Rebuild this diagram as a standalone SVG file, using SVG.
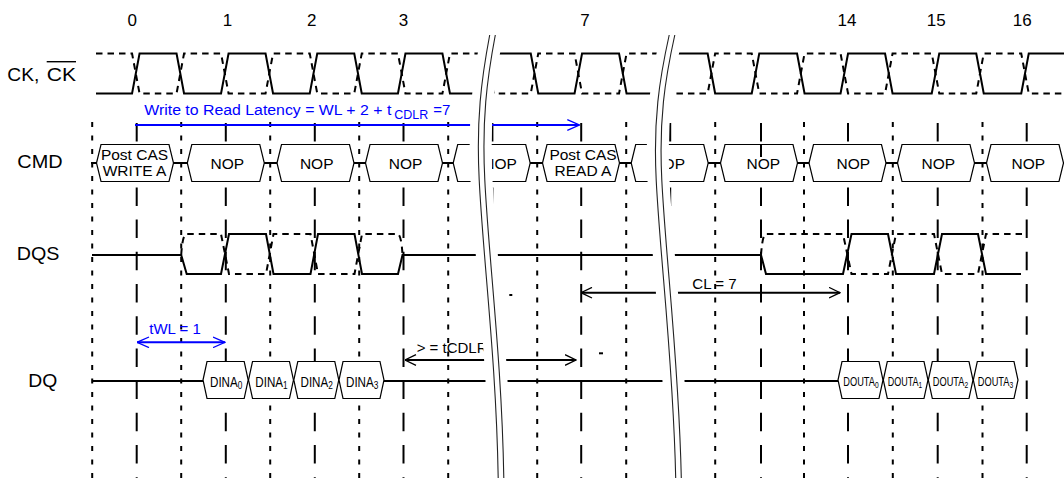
<svg xmlns="http://www.w3.org/2000/svg" width="1064" height="478" viewBox="0 0 1064 478">
<style>
.t{font-family:"Liberation Sans",Arial,sans-serif;fill:#000}
.b{fill:#00f}
.wf{fill:none;stroke:#000;stroke-width:2}
.wfd{fill:none;stroke:#000;stroke-width:2;stroke-dasharray:6.5 5}
.box{fill:#fff;stroke:#000;stroke-width:1.2}
.gl{stroke:#000;stroke-width:2;stroke-dasharray:18.5 13.7}
.gd{stroke:#000;stroke-width:2;stroke-dasharray:5 8.5}
.arr{fill:none;stroke:#000;stroke-width:2}
.arrb{fill:none;stroke:#00f;stroke-width:2}
.msk{fill:none;stroke:#fff;stroke-width:22}
.brk{fill:none;stroke:#222;stroke-width:1.1}
.di{font-size:14px}
.do{font-size:12.5px}
</style>
<defs>
<marker id="mk" markerUnits="userSpaceOnUse" viewBox="0 0 12 12" markerWidth="12" markerHeight="12" refX="11.5" refY="6" orient="auto-start-reverse">
<path d="M0.5,0.7 L11.5,6 L0.5,11.3" fill="none" stroke="#000" stroke-width="1.3"/>
</marker>
<marker id="mkb" markerUnits="userSpaceOnUse" viewBox="0 0 13 12" markerWidth="13" markerHeight="12" refX="12.5" refY="6" orient="auto-start-reverse">
<path d="M0.5,0.7 L12.5,6 L0.5,11.3" fill="none" stroke="#00f" stroke-width="1.3"/>
</marker>
</defs>
<rect x="0" y="0" width="1064" height="478" fill="#fff"/>

<g id="grid">
<line class="gd" x1="92.2" y1="122" x2="92.2" y2="478"/>
<line class="gd" x1="181.2" y1="122" x2="181.2" y2="478"/>
<line class="gd" x1="270.2" y1="122" x2="270.2" y2="478"/>
<line class="gd" x1="359.2" y1="122" x2="359.2" y2="478"/>
<line class="gd" x1="448.2" y1="122" x2="448.2" y2="478"/>
<line class="gd" x1="537.2" y1="122" x2="537.2" y2="478"/>
<line class="gd" x1="626.2" y1="122" x2="626.2" y2="478"/>
<line class="gd" x1="715.2" y1="122" x2="715.2" y2="478"/>
<line class="gd" x1="804" y1="122" x2="804" y2="478"/>
<line class="gd" x1="892.8" y1="122" x2="892.8" y2="478"/>
<line class="gd" x1="982.5" y1="122" x2="982.5" y2="478"/>
<line class="gl" x1="136.7" y1="123" x2="136.7" y2="478"/>
<line class="gl" x1="225.8" y1="123" x2="225.8" y2="478"/>
<line class="gl" x1="314.8" y1="123" x2="314.8" y2="478"/>
<line class="gl" x1="403.5" y1="123" x2="403.5" y2="478"/>
<line class="gl" x1="492.4" y1="123" x2="492.4" y2="478"/>
<line class="gl" x1="581.2" y1="123" x2="581.2" y2="478"/>
<line class="gl" x1="670.2" y1="123" x2="670.2" y2="478"/>
<line class="gl" x1="761" y1="123" x2="761" y2="478"/>
<line class="gl" x1="848" y1="123" x2="848" y2="478"/>
<line class="gl" x1="937.7" y1="123" x2="937.7" y2="478"/>
<line class="gl" x1="1026.7" y1="123" x2="1026.7" y2="478"/>
</g>

<g id="labels">
<text class="t" x="7.3" y="81" font-size="18.5" textLength="32" lengthAdjust="spacingAndGlyphs">CK,</text>
<text class="t" x="46.7" y="81" font-size="18.5" textLength="29.3" lengthAdjust="spacingAndGlyphs">CK</text>
<line x1="46.7" y1="61.7" x2="76" y2="61.7" stroke="#000" stroke-width="1.4"/>
<text class="t" x="17.3" y="167.7" font-size="18.5" textLength="45.3" lengthAdjust="spacingAndGlyphs">CMD</text>
<text class="t" x="16.7" y="260" font-size="18.5" textLength="42.7" lengthAdjust="spacingAndGlyphs">DQS</text>
<text class="t" x="28.3" y="387.3" font-size="18.5" textLength="29" lengthAdjust="spacingAndGlyphs">DQ</text>
</g>

<g id="cycles" class="t" font-size="17" text-anchor="middle">
<text x="132.2" y="26">0</text>
<text x="227.5" y="26">1</text>
<text x="311.7" y="26">2</text>
<text x="403.5" y="26">3</text>
<text x="585" y="26">7</text>
<text x="847" y="26">14</text>
<text x="936.3" y="26">15</text>
<text x="1022.3" y="26">16</text>
</g>

<g id="ck">
<path class="wf" d="M96,93.5 H132.05 L139.55,53.5 H176.55 L184.05,93.5 H221.05 L228.55,53.5 H265.55 L273.05,93.5 H309.75 L317.25,53.5 H354.25 L361.75,93.5 H397.95 L405.45,53.5 H442.45 L449.95,93.5 H486.25 L493.75,53.5 H530.75 L538.25,93.5 H574.55 L582.05,53.5 H619.05 L626.55,93.5 H663.15 L670.65,53.5 H707.65 L715.15,93.5 H751.75 L759.25,53.5 H797.05 L804.55,93.5 H840.55 L848.05,53.5 H885.05 L892.55,93.5 H931.75 L939.25,53.5 H976.25 L983.75,93.5 H1021.25 L1028.75,53.5 H1064"/>
<path class="wfd" d="M96,53.5 H132.05 L139.55,93.5 H176.55 L184.05,53.5 H221.05 L228.55,93.5 H265.55 L273.05,53.5 H309.75 L317.25,93.5 H354.25 L361.75,53.5 H397.95 L405.45,93.5 H442.45 L449.95,53.5 H486.25 L493.75,93.5 H530.75 L538.25,53.5 H574.55 L582.05,93.5 H619.05 L626.55,53.5 H663.15 L670.65,93.5 H707.65 L715.15,53.5 H751.75 L759.25,93.5 H797.05 L804.55,53.5 H840.55 L848.05,93.5 H885.05 L892.55,53.5 H931.75 L939.25,93.5 H976.25 L983.75,53.5 H1021.25 L1028.75,93.5 H1064"/>
</g>

<g id="cmd">
<line class="wf" x1="91" y1="163" x2="1064" y2="163"/>
<g id="cmd0"><polygon class="box" points="96.5,163 101,144.5 169,144.5 173.5,163 169,181.5 101,181.5"/>
<text class="t" x="134.5" y="160" font-size="15.5" text-anchor="middle">Post CAS</text>
<text class="t" x="134.5" y="175.7" font-size="15.5" text-anchor="middle">WRITE A</text></g>
<g id="cmd1"><polygon class="box" points="187.3,163 191.8,144.5 259.8,144.5 264.3,163 259.8,181.5 191.8,181.5"/>
<text class="t" x="227.3" y="168.5" font-size="15.5" text-anchor="middle">NOP</text></g>
<g id="cmd2"><polygon class="box" points="277,163 281.5,144.5 349.5,144.5 354,163 349.5,181.5 281.5,181.5"/>
<text class="t" x="316.7" y="168.5" font-size="15.5" text-anchor="middle">NOP</text></g>
<g id="cmd3"><polygon class="box" points="365.5,163 370,144.5 438,144.5 442.5,163 438,181.5 370,181.5"/>
<text class="t" x="405.5" y="168.5" font-size="15.5" text-anchor="middle">NOP</text></g>
<g id="cmd4"><polygon class="box" points="453.2,163 457.7,144.5 525.7,144.5 530.2,163 525.7,181.5 457.7,181.5"/>
<text class="t" x="500" y="168.5" font-size="15.5" text-anchor="middle">NOP</text></g>
<g id="cmd7"><polygon class="box" points="542.5,163 547,144.5 615,144.5 619.5,163 615,181.5 547,181.5"/>
<text class="t" x="583" y="160" font-size="15.5" text-anchor="middle">Post CAS</text>
<text class="t" x="583" y="175.7" font-size="15.5" text-anchor="middle">READ A</text></g>
<g id="cmd12"><polygon class="box" points="631.2,163 635.7,144.5 703.7,144.5 708.2,163 703.7,181.5 635.7,181.5"/>
<text class="t" x="668.2" y="168.5" font-size="15.5" text-anchor="middle">NOP</text></g>
<g id="cmd13"><polygon class="box" points="720.5,163 725,144.5 793,144.5 797.5,163 793,181.5 725,181.5"/>
<text class="t" x="763.3" y="168.5" font-size="15.5" text-anchor="middle">NOP</text>
<line x1="761" y1="144.5" x2="761" y2="157" stroke="#000" stroke-width="2"/></g>
<g id="cmd14"><polygon class="box" points="809,163 813.5,144.5 881.5,144.5 886,163 881.5,181.5 813.5,181.5"/>
<text class="t" x="853.3" y="168.5" font-size="15.5" text-anchor="middle">NOP</text></g>
<g id="cmd15"><polygon class="box" points="897.5,163 902,144.5 970,144.5 974.5,163 970,181.5 902,181.5"/>
<text class="t" x="938.3" y="168.5" font-size="15.5" text-anchor="middle">NOP</text></g>
<g id="cmd16"><polygon class="box" points="986.5,163 991,144.5 1059,144.5 1063.5,163 1059,181.5 991,181.5"/>
<text class="t" x="1028.3" y="168.5" font-size="15.5" text-anchor="middle">NOP</text></g>
</g>

<g id="dqs">
<path class="wf" d="M92,255 H181.2 L186.7,274 H221 L229,234 H266 L273.5,274 H310.5 L318,234 H354.5 L362,274 H398 L402.5,255 H761 L766,274 H843 L851.5,234 H888 L896,274 H934 L942,234 H978 L986,274 H1021"/>
<path class="wfd" d="M181.2,255 Q182.5,234 186.7,234 H221 L229,274 H266 L273.5,234 H310.5 L318,274 H354.5 L362,234 H398 Q401.5,236 402.5,255"/>
<path class="wfd" d="M761,255 Q762.5,234 766,234 H843 L851.5,274 H888 L896,234 H934 L942,274 H978 L986,234 H1022"/>
</g>

<g id="dq">
<line class="wf" x1="92" y1="381" x2="838" y2="381"/>
<g id="dina0"><polygon class="box" points="203,380 207,361.5 244.2,361.5 248.2,380 244.2,398.5 207,398.5"/>
<text class="t di" transform="translate(210,386.5) scale(0.83,1)">DINA<tspan font-size="10" dy="2.5">0</tspan></text></g>
<g id="dina1"><polygon class="box" points="248.5,380 252.5,361.5 289.5,361.5 293.5,380 289.5,398.5 252.5,398.5"/>
<text class="t di" transform="translate(255.3,386.5) scale(0.83,1)">DINA<tspan font-size="10" dy="2.5">1</tspan></text></g>
<g id="dina2"><polygon class="box" points="293.8,380 297.8,361.5 334.8,361.5 338.8,380 334.8,398.5 297.8,398.5"/>
<text class="t di" transform="translate(300.5,386.5) scale(0.83,1)">DINA<tspan font-size="10" dy="2.5">2</tspan></text></g>
<g id="dina3"><polygon class="box" points="339,380 343,361.5 380,361.5 384,380 380,398.5 343,398.5"/>
<text class="t di" transform="translate(346,386.5) scale(0.83,1)">DINA<tspan font-size="10" dy="2.5">3</tspan></text></g>
<g id="douta0"><polygon class="box" points="838,380 842,361.5 879,361.5 883,380 879,398.5 842,398.5"/>
<text class="t do" transform="translate(843.3,385.5) scale(0.74,1)">DOUTA<tspan font-size="9" dy="2.5">0</tspan></text></g>
<g id="douta1"><polygon class="box" points="883.3,380 887.3,361.5 924,361.5 928,380 924,398.5 887.3,398.5"/>
<text class="t do" transform="translate(887.8,385.5) scale(0.72,1)">DOUTA<tspan font-size="9" dy="2.5">1</tspan></text></g>
<g id="douta2"><polygon class="box" points="928.3,380 932.3,361.5 969,361.5 973,380 969,398.5 932.3,398.5"/>
<text class="t do" transform="translate(932.8,385.5) scale(0.74,1)">DOUTA<tspan font-size="9" dy="2.5">2</tspan></text></g>
<g id="douta3"><polygon class="box" points="973.3,380 977.3,361.5 1014,361.5 1018,380 1014,398.5 977.3,398.5"/>
<text class="t do" transform="translate(977.8,385.5) scale(0.74,1)">DOUTA<tspan font-size="9" dy="2.5">3</tspan></text></g>
</g>

<g id="connectors">
<path class="arrb" d="M135,125 H579.3" marker-end="url(#mkb)"/>
<path class="arrb" d="M137,342.3 H225" marker-start="url(#mkb)" marker-end="url(#mkb)"/>
<path class="arr" d="M405,360 H576" marker-start="url(#mk)" marker-end="url(#mk)"/>
<path class="arr" d="M581,292.7 H840" marker-start="url(#mk)" marker-end="url(#mk)"/>
<line x1="509.3" y1="295" x2="512.3" y2="295" stroke="#000" stroke-width="2"/>
<line x1="599" y1="353.3" x2="603" y2="353.3" stroke="#000" stroke-width="2"/>
</g>

<g id="arrow-labels">
<text class="t b" x="144.3" y="115" font-size="15.5" textLength="247" lengthAdjust="spacingAndGlyphs">Write to Read Latency = WL + 2 + t</text>
<text class="t b" x="394.3" y="119" font-size="13" textLength="34" lengthAdjust="spacingAndGlyphs">CDLR</text>
<text class="t b" x="433.3" y="115" font-size="15">=7</text>
<text class="t b" x="149.3" y="334" font-size="15">tWL = 1</text>
<text class="t" x="416.7" y="353.3" font-size="15">&gt; = tCDLR</text>
<text class="t" x="692.3" y="289" font-size="15" textLength="44.4" lengthAdjust="spacingAndGlyphs">CL = 7</text>
</g>

<g id="breaks">
<path class="msk" transform="translate(-0.5,0)" d="M492.5,36 C484,80 479,120 482,180 C486,260 499,360 501,478"/>
<path class="brk" transform="translate(-2.8,0)" d="M492.5,35 C484,80 479,120 482,180 C486,260 499,360 501,478"/>
<path class="brk" transform="translate(2.8,0)" d="M492.5,35 C484,80 479,120 482,180 C486,260 499,360 501,478"/>
<path class="msk" transform="translate(-0.5,0)" d="M672,36 C662,80 656,120 659,180 C663,260 676,360 678.5,478"/>
<path class="brk" transform="translate(-2.8,0)" d="M672,35 C662,80 656,120 659,180 C663,260 676,360 678.5,478"/>
<path class="brk" transform="translate(2.8,0)" d="M672,35 C662,80 656,120 659,180 C663,260 676,360 678.5,478"/>
</g>
</svg>
